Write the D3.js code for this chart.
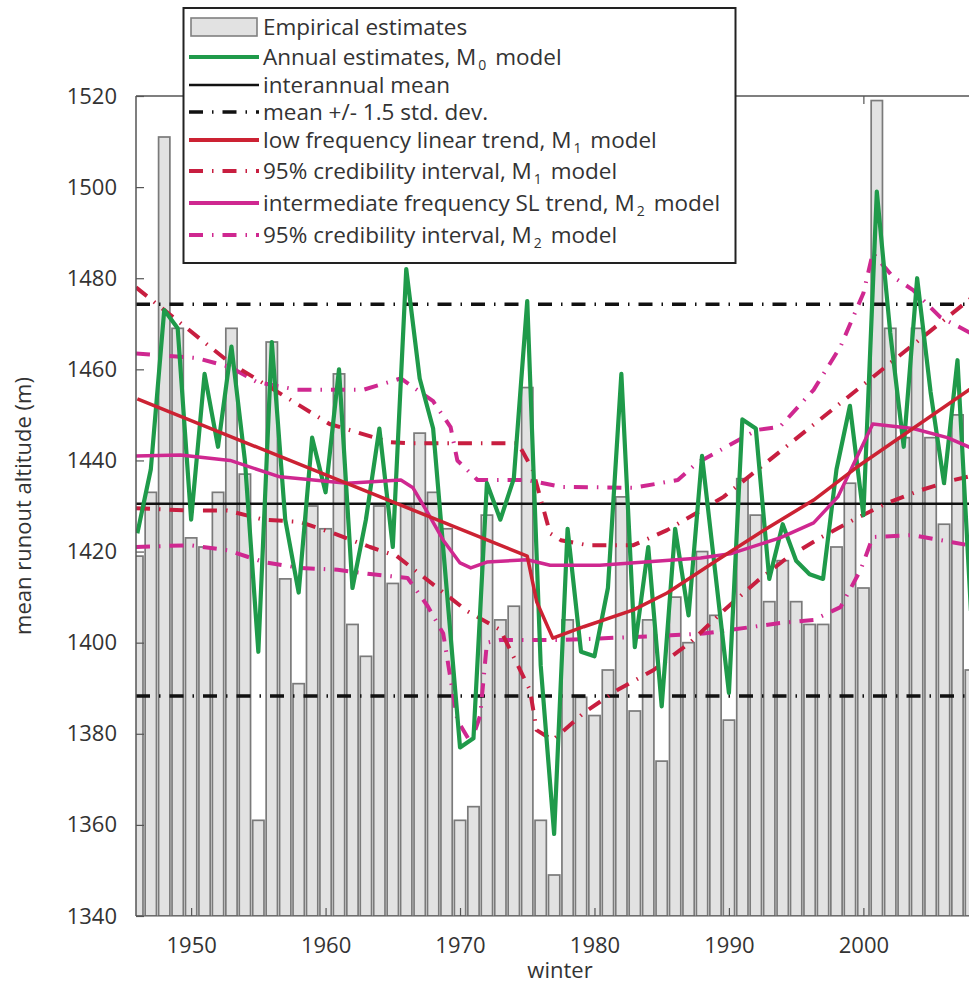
<!DOCTYPE html>
<html><head><meta charset="utf-8">
<script src="https://cdn.jsdelivr.net/npm/d3@7"></script>
<style>
body{margin:0;background:#fff}
text{font-family:"Open Sans","Noto Sans",sans-serif;fill:#333}
</style>
</head><body>
<svg id="c" width="969" height="984"></svg>
<script>
// ---------------- data ----------------
const years = d3.range(1946, 2009);
const empirical = [1419,1433,1511,1469,1423,1421,1433,1469,1437,1361,
  1466,1414,1391,1430,1425,1459,1404,1397,1430,1413,
  1430,1446,1433,1425,1361,1364,1428,1405,1408,1456,
  1361,1349,1405,1388,1384,1394,1432,1385,1405,1374,
  1410,1400,1420,1406,1383,1436,1428,1409,1418,1409,
  1404,1404,1421,1435,1412,1519,1469,1445,1469,1445,
  1426,1450,1394];
const annualM0 = [1424,1438,1473,1469,1427,1459,1443,1465,1440,1398,
  1466,1427,1411,1445,1433,1460,1412,1427,1447,1421,
  1482,1458,1447,1412,1377,1379,1435,1427,1436,1475,
  1395,1358,1425,1398,1397,1412,1459,1399,1421,1386,
  1425,1406,1441,1415,1389,1449,1447,1414,1426,1418,
  1415,1414,1438,1452,1428,1499,1468,1443,1480,1455,
  1435,1462,1407];
const meanLevel = [1430.5];
const stdLevels = [1388.3, 1474.3];

const m1Years = [1946,1975,1975.7,1976.9,1979.2,1982.9,1985.4,1988.8,1992.6,1996.3,1999.5,2008.6];
const m1Vals  = [1453.5,1419,1409,1401,1403.5,1407.2,1410.9,1417.5,1424.7,1431.3,1438.5,1457];
const m1UpYears = [1945.9,1952.9,1955.9,1960.3,1964.8,1966,1974.3,1975.4,1976.7,1977.5,1979.5,1982.9,1985.4,1987.9,1989.6,2008.6];
const m1UpVals  = [1478,1461.4,1456,1448,1444,1443.8,1443.8,1438,1424,1422.5,1421.4,1421.4,1424.7,1429,1432,1477];
const m1LoYears = [1945.9,1950,1952.7,1955.4,1958.1,1960.6,1963.3,1965.3,1970.5,1973,1975.2,1975.7,1976.9,1979.2,1981.7,1984.4,1987.1,1989.6,1992.1,1994.4,1996.9,1999.3,2001.8,2004.3,2006.7,2008.6];
const m1LoVals  = [1429.5,1429,1429,1427,1426.5,1424,1421,1419,1407,1402.8,1389.6,1380.8,1378.6,1384.6,1389.6,1394,1400,1407,1413.5,1418.8,1423.2,1427,1430.7,1433.5,1435.7,1437];

const m2Years = [1945.9,1949.2,1952.9,1956.6,1961.6,1965.6,1966.5,1967.6,1968.75,1970,1970.8,1972,1975,1976.7,1980.4,1987.9,1990.1,1993.8,1996.3,1998.1,2000.7,2003.7,2006.25,2008.6];
const m2Vals  = [1441,1441.2,1440,1436.4,1435,1435.7,1434,1428.5,1422.5,1417.5,1416.4,1417.7,1418.2,1417,1417,1418.6,1419.5,1423,1426.3,1432,1448,1447,1445,1442];
const m2UpYears = [1945.9,1950.4,1952.9,1954.9,1957.9,1962.8,1965.6,1968,1969.3,1969.8,1971.3,1975,1977.5,1982.9,1986.2,1987.6,1992.1,1993.8,1996.3,1998.3,2000,2000.7,2002.2,2003.7,2005.7,2008.6];
const m2UpVals  = [1463.5,1462.5,1460.5,1457.2,1455.5,1455.5,1458,1453,1447.3,1440,1435.7,1435.7,1434.2,1434,1435.7,1439.4,1446.7,1447.4,1455.5,1465,1476.7,1485.5,1480.3,1477.4,1471.5,1467];
const m2LoYears = [1945.9,1949.9,1952.7,1955.4,1958.1,1960.9,1963.5,1966.1,1967.6,1968.75,1969.3,1969.8,1970.8,1971.5,1972,1973,1977.7,1983.4,1988.1,1993.8,1996.3,1998.3,1999.8,2000.7,2003.7,2006.7,2008.6];
const m2LoVals  = [1421,1421.4,1420.3,1417.7,1416.4,1416,1415,1414.2,1408,1402,1392,1383,1378,1384,1400,1400.6,1400.6,1401.3,1402,1404.3,1405,1407.8,1416,1423.2,1423.6,1422,1421];

const yTicks = [1340,1360,1380,1400,1420,1440,1460,1480,1500,1520];
const xTicks = [1950,1960,1970,1980,1990,2000];

const legendItems = [
  {label:["Empirical estimates"], kind:"bar"},
  {label:["Annual estimates, M","0"," model"], kind:"line", color:"#1f9a4a", w:4, dash:null},
  {label:["interannual mean"], kind:"line", color:"#111", w:2.4, dash:null},
  {label:["mean +/- 1.5 std. dev."], kind:"line", color:"#111", w:3.5, dash:"14,9,1.5,9"},
  {label:["low frequency linear trend, M","1"," model"], kind:"line", color:"#cc2233", w:3.8, dash:null},
  {label:["95% credibility interval, M","1"," model"], kind:"line", color:"#c81e40", w:4, dash:"14,9,1.5,9"},
  {label:["intermediate frequency SL trend, M","2"," model"], kind:"line", color:"#cf2890", w:3.8, dash:null},
  {label:["95% credibility interval, M","2"," model"], kind:"line", color:"#cf2890", w:4, dash:"14,9,1.5,9"}
];

// ---------------- drawing ----------------
const svg = d3.select("#c");
const L = 136, T = 96, B = 916, R = 979;
const x = d3.scaleLinear().domain([1945.9, 2008.6]).range([L, R]);
const y = d3.scaleLinear().domain([1340, 1520]).range([B, T]);

svg.append("defs").append("clipPath").attr("id","clip")
  .append("rect").attr("x",L).attr("y",T).attr("width",R-L).attr("height",B-T);

const plot = svg.append("g").attr("clip-path","url(#clip)");
const step = x(1947) - x(1946);
const bw = step * 0.84;

plot.selectAll("rect.bar").data(years).join("rect").attr("class","bar")
  .attr("x", d => x(d) - bw/2).attr("width", bw)
  .attr("y", (d,i) => y(empirical[i])).attr("height", (d,i) => y(1340) - y(empirical[i]))
  .attr("fill","#e2e2e2").attr("stroke","#7a7a7a").attr("stroke-width",1.7);

const ln = d3.line().x(d => x(d[0])).y(d => y(d[1]));
const zip = (a,b) => a.map((v,i)=>[v,b[i]]);
const dashDot = "14,9,1.5,9";

stdLevels.forEach(v => {
  plot.append("path").attr("d", ln([[1945.9,v],[2008.6,v]]))
    .attr("stroke","#111").attr("stroke-width",3.5).attr("fill","none").attr("stroke-dasharray",dashDot);
});
plot.append("path").attr("d", ln([[1945.9,meanLevel[0]],[2008.6,meanLevel[0]]]))
  .attr("stroke","#111").attr("stroke-width",2.4).attr("fill","none");

function drawLine(xs, vs, color, w, dash){
  const p = plot.append("path").attr("d", ln(zip(xs,vs)))
    .attr("stroke",color).attr("stroke-width",w).attr("fill","none")
    .attr("stroke-linejoin","round");
  if (dash) p.attr("stroke-dasharray",dash);
}
drawLine(m2UpYears, m2UpVals, "#cf2890", 4, dashDot);
drawLine(m2LoYears, m2LoVals, "#cf2890", 4, dashDot);
drawLine(m1UpYears, m1UpVals, "#c81e40", 4, dashDot);
drawLine(m1LoYears, m1LoVals, "#c81e40", 4, dashDot);
drawLine(years, annualM0, "#1f9a4a", 4.2, null);
drawLine(m2Years, m2Vals, "#cf2890", 3.5, null);
drawLine(m1Years, m1Vals, "#cc2233", 3.5, null);

// axes / frame
const axisColor = "#555";
svg.append("line").attr("x1",L).attr("x2",R).attr("y1",T).attr("y2",T).attr("stroke",axisColor).attr("stroke-width",1.5);
svg.append("line").attr("x1",L).attr("x2",L).attr("y1",T).attr("y2",B).attr("stroke",axisColor).attr("stroke-width",1.5);
svg.append("line").attr("x1",L).attr("x2",R).attr("y1",B).attr("y2",B).attr("stroke",axisColor).attr("stroke-width",1.2);

const yAxis = svg.append("g").attr("transform",`translate(${L},0)`)
  .call(d3.axisLeft(y).tickValues(yTicks).tickSize(-8).tickPadding(19).tickFormat(d3.format("d")));
const xAxis = svg.append("g").attr("transform",`translate(0,${B})`)
  .call(d3.axisBottom(x).tickValues(xTicks).tickSize(-8).tickPadding(21).tickFormat(d3.format("d")));
const xTop = svg.append("g").attr("transform",`translate(0,${T})`)
  .call(d3.axisTop(x).tickValues(xTicks).tickSize(-8).tickFormat(""));
[yAxis,xAxis,xTop].forEach(g => {
  g.select(".domain").remove();
  g.selectAll(".tick line").attr("stroke",axisColor).attr("stroke-width",1.2);
  g.selectAll(".tick text").attr("font-size",22).attr("fill","#333")
    .attr("font-family",'"Open Sans","Noto Sans",sans-serif');
});

svg.append("text").attr("transform",`translate(31,${(T+B)/2}) rotate(-90)`)
  .attr("text-anchor","middle").attr("font-size",22).text("mean runout altitude (m)");
svg.append("text").attr("x",560).attr("y",978).attr("text-anchor","middle")
  .attr("font-size",22).text("winter");

// legend
const lg = svg.append("g");
lg.append("rect").attr("x",183.5).attr("y",8).attr("width",552).attr("height",255)
  .attr("fill","#fff").attr("stroke","#222").attr("stroke-width",2);
const rows = [27,57,85,112,140,171,203,235];
legendItems.forEach((it,i) => {
  const ry = rows[i];
  if (it.kind === "bar") {
    lg.append("rect").attr("x",191).attr("y",ry-9).attr("width",66).attr("height",18)
      .attr("fill","#e2e2e2").attr("stroke","#808080").attr("stroke-width",1.6);
  } else {
    const p = lg.append("line").attr("x1",189).attr("x2",259).attr("y1",ry).attr("y2",ry)
      .attr("stroke",it.color).attr("stroke-width",it.w);
    if (it.dash) p.attr("stroke-dasharray",it.dash);
  }
  const t = lg.append("text").attr("x",263).attr("y",ry+8).attr("font-size",22.5);
  t.append("tspan").text(it.label[0]);
  if (it.label.length > 1) {
    t.append("tspan").attr("font-size",14).attr("dy",5).attr("dx",2).text(it.label[1]);
    t.append("tspan").attr("dy",-5).attr("dx",3).text(it.label[2]);
  }
});
</script>
</body></html>
